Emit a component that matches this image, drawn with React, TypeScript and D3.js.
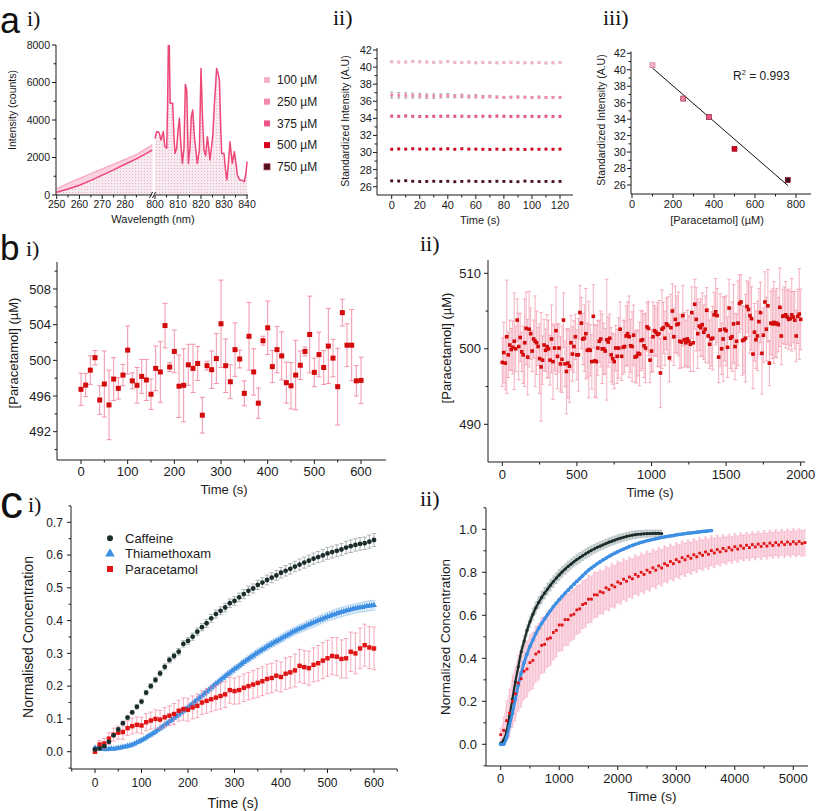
import React from "react";
import * as d3 from "d3";

const FONT = "'Liberation Sans', Arial, Helvetica, sans-serif";
const SERIF = "'Liberation Serif', 'DejaVu Serif', serif";
const INK = "#1a1a1a";

// ---------------- a-i spectrum ----------------
const specLeftWl = [250, 255, 260, 265, 270, 275, 280, 285, 290, 292];
const specLeftHigh = [340, 620, 880, 1140, 1390, 1640, 1890, 2150, 2520, 2690];
const specLeftLow = [150, 320, 520, 780, 1060, 1340, 1640, 1930, 2260, 2400];
const specRightWl = [800.0, 800.7, 801.4, 801.9, 802.6, 803.1, 803.6, 804.3, 805.1, 805.5, 805.8, 806.2, 806.6, 807.7, 808.3, 808.7, 809.4, 810.0, 810.6, 811.2, 811.9, 812.6, 813.2, 813.8, 814.5, 815.2, 815.8, 816.4, 817.2, 818.4, 819.3, 820.0, 820.7, 821.3, 822.0, 822.8, 823.9, 824.6, 825.1, 825.9, 826.8, 827.4, 828.0, 828.6, 829.0, 830.0, 830.6, 831.2, 831.8, 832.6, 833.6, 834.5, 835.2, 835.8, 836.8, 837.7, 838.8, 839.6, 840.0];
const specRightI = [3020, 3380, 3380, 3290, 2930, 3150, 3380, 2580, 2490, 5000, 8000, 8000, 4890, 4890, 3000, 2220, 2490, 3400, 4090, 2800, 1690, 2500, 5900, 5600, 1690, 2500, 4200, 4530, 3000, 1690, 2400, 6750, 4000, 2400, 2100, 3110, 1870, 2600, 3110, 5000, 6750, 6500, 6130, 3500, 2220, 2220, 1400, 800, 1500, 2840, 1690, 2310, 1700, 1070, 800, 800, 710, 1200, 1780];
const a1YTicks = [0, 2000, 4000, 6000, 8000];
const a1YMinor = [1000, 3000, 5000, 7000];
const a1XTicksL = [250, 260, 270, 280];
const a1XMinorL = [255, 265, 275, 285];
const a1XTicksR = [800, 810, 820, 830, 840];
const a1XMinorR = [805, 815, 825, 835];

const concLabels = ["100 µM", "250 µM", "375 µM", "500 µM", "750 µM"];
const concColors = ["#f7b3c8", "#f288a8", "#ec5585", "#d6001c", "#4a0f1c"];

// ---------------- a-ii stability ----------------
const a2Times = [0, 5, 10, 15, 20, 25, 30, 35, 40, 45, 50, 55, 60, 65, 70, 75, 80, 85, 90, 95, 100, 105, 110, 115, 120];
const a2S100 = [40.62, 40.58, 40.6, 40.64, 40.62, 40.6, 40.56, 40.58, 40.64, 40.56, 40.55, 40.58, 40.5, 40.56, 40.52, 40.5, 40.54, 40.56, 40.52, 40.5, 40.5, 40.54, 40.48, 40.5, 40.55];
const a2S250 = [36.72, 36.7, 36.68, 36.66, 36.64, 36.6, 36.6, 36.62, 36.66, 36.6, 36.62, 36.55, 36.58, 36.52, 36.56, 36.5, 36.45, 36.48, 36.5, 36.48, 36.46, 36.48, 36.45, 36.46, 36.46];
const a2S375 = [34.26, 34.24, 34.28, 34.24, 34.22, 34.22, 34.24, 34.24, 34.26, 34.24, 34.25, 34.22, 34.24, 34.25, 34.24, 34.26, 34.24, 34.22, 34.24, 34.22, 34.24, 34.2, 34.24, 34.22, 34.22];
const a2S500 = [30.38, 30.42, 30.4, 30.44, 30.4, 30.4, 30.42, 30.4, 30.44, 30.38, 30.44, 30.4, 30.4, 30.38, 30.36, 30.4, 30.34, 30.4, 30.38, 30.36, 30.4, 30.38, 30.4, 30.38, 30.4];
const a2S750 = [26.68, 26.66, 26.7, 26.64, 26.6, 26.62, 26.64, 26.62, 26.64, 26.58, 26.62, 26.66, 26.62, 26.6, 26.62, 26.64, 26.62, 26.6, 26.58, 26.66, 26.62, 26.6, 26.62, 26.6, 26.62];
const a2E250 = [0.35, 0.33, 0.32, 0.3, 0.28, 0.27, 0.26, 0.25, 0.24, 0.2, 0.22, 0.18, 0.2, 0.14, 0.15, 0.12, 0.12, 0.1, 0.12, 0.1, 0.1, 0.12, 0.1, 0.1, 0.1];
const a2EOther = [0.1, 0.12, 0.1, 0.08];
const a2XTicks = [0, 20, 40, 60, 80, 100, 120];
const a2XMinor = [10, 30, 50, 70, 90, 110];
const stdTicks = [26, 28, 30, 32, 34, 36, 38, 40, 42];
const stdMinor = [27, 29, 31, 33, 35, 37, 39, 41];

// ---------------- a-iii calibration ----------------
const a3Conc = [100, 250, 375, 500, 760];
const a3Int = [40.55, 36.5, 34.25, 30.4, 26.6];
const a3FitX = [100, 762];
const a3FitY = [40.2, 25.9];
const a3XTicks = [0, 200, 400, 600, 800];
const a3XMinor = [100, 300, 500, 700];

// ---------------- b-i ----------------
const b1Values = [496.75, 497.23, 498.9, 500.3, 495.55, 497.35, 495.0, 497.9, 496.86, 498.35,
  501.15, 497.7, 497.2, 498.2, 497.8, 496.2, 499.1, 498.7, 503.9, 499.25,
  501.0, 497.1, 497.2, 499.5, 499.1, 499.65, 493.85, 499.4, 498.95, 500.2,
  504.1, 499.4, 497.6, 501.2, 500.15, 496.3, 502.7, 498.7, 495.2, 502.2,
  503.65, 499.3, 501.2, 500.5, 497.5, 497.15, 498.35, 499.45, 501.0, 502.9,
  498.65, 500.65, 499.2, 501.6, 500.25, 497.05, 505.35, 501.7, 501.7, 497.7, 497.75];
const b1Err = [1.8, 1.3, 1.6, 0.8, 1.6, 3.7, 3.9, 2.4, 1.2, 1.2,
  2.7, 0.9, 2.0, 1.9, 2.3, 1.7, 2.5, 3.4, 2.5, 0.5,
  2.4, 3.5, 4.1, 2.3, 2.7, 1.9, 2.0, 0.5, 2.1, 2.8,
  4.9, 3.0, 1.9, 3.0, 1.0, 1.4, 3.8, 2.6, 1.7, 0.5,
  3.0, 1.8, 2.6, 2.7, 2.3, 2.6, 3.9, 1.6, 0.5, 4.3,
  1.6, 2.5, 1.9, 4.2, 2.1, 4.3, 1.5, 2.4, 4.0, 1.7, 2.6];
const b1YTicks = [492, 496, 500, 504, 508];
const b1YMinor = [490, 494, 498, 502, 506, 510];
const b1XTicks = [0, 100, 200, 300, 400, 500, 600];
const b1XMinor = [50, 150, 250, 350, 450, 550];

// ---------------- b-ii ----------------
const b2Values = [498.2, 499.5, 498.1, 501.6, 499.2, 500.5, 499.9, 500.2, 501.0, 500.0,
  503.8, 500.3, 501.5, 499.6, 499.2, 500.8, 502.7, 498.9, 502.6, 502.0,
  499.7, 501.3, 501.0, 500.8, 500.3, 498.7, 497.6, 498.5, 500.5, 499.8,
  500.3, 500.0, 498.5, 501.3, 498.3, 500.1, 502.4, 499.0, 500.1, 498.0,
  498.6, 503.8, 498.0, 497.0, 498.1, 497.7, 500.8, 499.3, 500.3, 501.6,
  499.2, 499.2, 504.8, 503.4, 501.3, 501.4, 502.0, 499.8, 499.9, 499.8,
  498.3, 504.3, 498.4, 498.3, 500.1, 501.0, 501.3, 500.0, 500.0, 499.7,
  501.2, 500.9, 501.4, 499.2, 498.7, 498.3, 500.1, 499.0, 500.1, 502.6,
  499.0, 500.2, 500.3, 501.7, 502.0, 501.6, 500.4, 500.3, 501.8, 498.9,
  499.0, 499.4, 499.3, 501.1, 501.2, 500.4, 500.1, 502.9, 502.7, 498.5,
  499.7, 501.6, 502.4, 502.2, 501.9, 502.0, 496.8, 502.6, 502.8, 501.4,
  503.3, 503.1, 498.8, 502.8, 505.0, 501.6, 503.9, 503.2, 503.3, 501.0,
  500.9, 504.4, 501.2, 500.8, 501.3, 501.0, 500.6, 504.8, 500.8, 505.9,
  503.9, 502.0, 503.0, 502.8, 503.2, 502.2, 502.6, 505.1, 501.7, 500.6,
  501.3, 501.4, 504.5, 504.9, 504.4, 498.9, 502.5, 500.0, 501.3, 502.6,
  502.4, 500.2, 505.4, 501.4, 501.6, 503.3, 500.3, 501.0, 503.4, 506.0,
  506.2, 501.1, 501.2, 501.4, 505.6, 505.2, 504.4, 504.0, 499.3, 502.2,
  501.2, 501.7, 503.6, 504.8, 499.4, 501.8, 506.2, 502.6, 505.7, 498.1,
  503.4, 503.3, 503.5, 503.3, 503.4, 503.2, 505.5, 501.7, 504.3, 504.4,
  504.5, 504.2, 503.9, 504.0, 504.5, 504.2, 503.8, 501.7, 504.3, 504.6, 503.9];
const b2Err = [3.2, 4.0, 3.5, 7.5, 3.0, 3.3, 2.8, 3.5, 6.4, 3.0,
  2.8, 4.4, 3.2, 2.6, 3.8, 5.8, 4.8, 5.0, 5.0, 3.4,
  2.7, 2.5, 6.0, 4.2, 2.5, 4.6, 7.2, 3.2, 3.4, 2.8,
  4.2, 3.8, 3.3, 4.5, 5.0, 3.0, 5.8, 4.3, 3.2, 3.6,
  4.4, 3.6, 3.0, 5.6, 4.6, 4.8, 3.6, 3.6, 3.4, 3.0,
  3.3, 4.8, 3.6, 3.4, 3.4, 4.4, 6.0, 3.6, 6.4, 3.4,
  3.6, 4.2, 4.8, 4.8, 3.6, 2.8, 3.7, 4.6, 3.4, 3.0,
  8.0, 3.3, 3.2, 3.6, 3.4, 3.6, 3.0, 3.6, 4.0, 3.6,
  3.2, 3.6, 3.4, 4.0, 4.2, 5.4, 3.5, 4.6, 4.0, 3.4,
  3.5, 3.0, 4.2, 4.0, 3.8, 4.2, 4.6, 3.2, 3.6, 3.0,
  2.8, 4.6, 3.3, 3.2, 4.2, 4.4, 4.6, 5.2, 3.4, 3.6,
  3.4, 3.8, 3.2, 4.4, 3.6, 3.8, 4.4, 3.8, 4.2, 3.6,
  3.4, 4.0, 3.6, 3.0, 3.8, 3.4, 3.6, 3.4, 3.8, 3.3,
  4.2, 4.6, 3.2, 3.8, 4.2, 3.6, 4.4, 3.0, 3.6, 3.2,
  3.6, 4.2, 3.0, 4.4, 3.6, 3.4, 4.8, 3.4, 5.6, 4.2,
  4.6, 4.0, 3.8, 4.0, 4.6, 5.2, 4.4, 3.6, 5.6, 3.8,
  3.6, 4.6, 4.4, 5.8, 3.4, 3.6, 5.0, 4.2, 4.6, 3.8,
  3.8, 4.6, 4.4, 4.0, 5.4, 3.6, 4.0, 4.2, 4.8, 3.0,
  4.2, 4.6, 5.4, 4.4, 4.6, 3.6, 5.2, 3.8, 3.6, 3.8,
  4.4, 3.6, 4.0, 3.6, 4.8, 3.4, 3.8, 3.4, 3.6, 6.0, 4.0];
const b2YTicks = [490, 500, 510];
const b2YMinor = [495, 505];
const b2XTicks = [0, 500, 1000, 1500, 2000];
const b2XMinor = [250, 750, 1250, 1750];

// ---------------- c-i ----------------
const c1Caffeine = [0.007, 0.010, 0.017, 0.030, 0.050, 0.068, 0.087, 0.104, 0.120, 0.137,
  0.153, 0.180, 0.200, 0.219, 0.239, 0.259, 0.280, 0.292, 0.305, 0.329,
  0.338, 0.351, 0.366, 0.380, 0.392, 0.407, 0.420, 0.430, 0.440, 0.453,
  0.460, 0.471, 0.481, 0.491, 0.498, 0.509, 0.516, 0.524, 0.531, 0.538,
  0.546, 0.552, 0.558, 0.565, 0.571, 0.577, 0.583, 0.589, 0.594, 0.599,
  0.605, 0.609, 0.613, 0.617, 0.623, 0.627, 0.631, 0.634, 0.636, 0.641, 0.646];
const c1CaffeineErr = [0.004, 0.004, 0.004, 0.005, 0.005, 0.005, 0.006, 0.006, 0.006, 0.007,
  0.007, 0.007, 0.008, 0.008, 0.008, 0.009, 0.009, 0.009, 0.010, 0.010,
  0.010, 0.011, 0.011, 0.011, 0.012, 0.012, 0.012, 0.012, 0.013, 0.013,
  0.013, 0.013, 0.014, 0.014, 0.014, 0.014, 0.015, 0.015, 0.015, 0.015,
  0.016, 0.016, 0.016, 0.016, 0.017, 0.017, 0.017, 0.017, 0.017, 0.018,
  0.018, 0.018, 0.018, 0.018, 0.019, 0.019, 0.019, 0.019, 0.019, 0.020, 0.020];
const c1Thiam = [0.012, 0.010, 0.009, 0.008, 0.008, 0.007, 0.008, 0.009, 0.008, 0.010, 0.011, 0.012, 0.014,
  0.015, 0.017, 0.019, 0.021, 0.024, 0.028, 0.031, 0.035, 0.039, 0.043, 0.048, 0.052,
  0.056, 0.061, 0.066, 0.071, 0.076, 0.082, 0.087, 0.092, 0.097, 0.103, 0.108, 0.113,
  0.119, 0.124, 0.130, 0.135, 0.141, 0.147, 0.153, 0.159, 0.165, 0.171, 0.177, 0.183,
  0.189, 0.195, 0.201, 0.207, 0.213, 0.219, 0.225, 0.230, 0.236, 0.241, 0.247, 0.252,
  0.257, 0.262, 0.268, 0.273, 0.278, 0.283, 0.288, 0.293, 0.298, 0.303, 0.307, 0.312,
  0.316, 0.321, 0.325, 0.329, 0.333, 0.337, 0.341, 0.345, 0.349, 0.353, 0.357, 0.361,
  0.365, 0.368, 0.372, 0.375, 0.378, 0.381, 0.385, 0.388, 0.391, 0.394, 0.397, 0.400,
  0.403, 0.406, 0.409, 0.412, 0.414, 0.417, 0.419, 0.422, 0.424, 0.426, 0.428, 0.430,
  0.432, 0.434, 0.436, 0.437, 0.439, 0.440, 0.441, 0.443, 0.444, 0.445, 0.446, 0.447];
const c1ThiamErr = [0.003, 0.003, 0.003, 0.003, 0.003, 0.003, 0.003, 0.003, 0.003, 0.003, 0.003, 0.003, 0.003,
  0.004, 0.004, 0.004, 0.004, 0.004, 0.004, 0.005, 0.005, 0.005, 0.005, 0.005, 0.005,
  0.005, 0.005, 0.005, 0.005, 0.006, 0.006, 0.006, 0.006, 0.007, 0.007, 0.007, 0.007,
  0.007, 0.007, 0.007, 0.007, 0.008, 0.008, 0.008, 0.008, 0.008, 0.008, 0.008, 0.008,
  0.009, 0.009, 0.009, 0.009, 0.009, 0.009, 0.010, 0.010, 0.010, 0.010, 0.010, 0.010,
  0.010, 0.010, 0.010, 0.010, 0.010, 0.010, 0.011, 0.011, 0.011, 0.011, 0.011, 0.011,
  0.011, 0.011, 0.011, 0.011, 0.011, 0.011, 0.012, 0.012, 0.012, 0.012, 0.012, 0.012,
  0.012, 0.012, 0.012, 0.012, 0.012, 0.012, 0.013, 0.013, 0.013, 0.013, 0.013, 0.013,
  0.013, 0.013, 0.013, 0.013, 0.013, 0.013, 0.014, 0.014, 0.014, 0.014, 0.014, 0.014,
  0.014, 0.014, 0.014, 0.014, 0.014, 0.014, 0.015, 0.015, 0.015, 0.015, 0.015, 0.015];
const c1Para = [0.000, 0.022, 0.025, 0.040, 0.052, 0.058, 0.060, 0.072, 0.078, 0.082,
  0.080, 0.090, 0.095, 0.100, 0.098, 0.105, 0.110, 0.115, 0.125, 0.130,
  0.128, 0.135, 0.140, 0.150, 0.155, 0.160, 0.165, 0.170, 0.175, 0.188,
  0.185, 0.188, 0.195, 0.200, 0.205, 0.210, 0.215, 0.222, 0.225, 0.232,
  0.228, 0.238, 0.242, 0.248, 0.262, 0.258, 0.255, 0.265, 0.270, 0.278,
  0.285, 0.292, 0.290, 0.283, 0.285, 0.305, 0.300, 0.315, 0.325, 0.318, 0.315];
const c1ParaErr = [0.005, 0.012, 0.015, 0.018, 0.020, 0.020, 0.022, 0.022, 0.024, 0.024,
  0.025, 0.026, 0.026, 0.028, 0.028, 0.030, 0.030, 0.032, 0.032, 0.034,
  0.035, 0.035, 0.036, 0.036, 0.038, 0.038, 0.038, 0.040, 0.040, 0.040,
  0.040, 0.042, 0.042, 0.042, 0.043, 0.044, 0.044, 0.045, 0.045, 0.046,
  0.046, 0.048, 0.048, 0.050, 0.050, 0.050, 0.052, 0.052, 0.054, 0.055,
  0.055, 0.056, 0.058, 0.058, 0.060, 0.060, 0.062, 0.062, 0.064, 0.064, 0.065];
const c1YTicks = [0, 0.1, 0.2, 0.3, 0.4, 0.5, 0.6, 0.7];
const c1YMinor = [-0.05, 0.05, 0.15, 0.25, 0.35, 0.45, 0.55, 0.65, 0.75];
const c1XTicks = [0, 100, 200, 300, 400, 500, 600];
const c1XMinor = [-50, 50, 150, 250, 350, 450, 550, 650];
const c1Legend = ["Caffeine", "Thiamethoxam", "Paracetamol"];

// ---------------- c-ii ----------------
const c2Caffeine = [0.005, 0.02, 0.06, 0.13, 0.21, 0.29, 0.36, 0.43, 0.48, 0.53,
  0.57, 0.605, 0.635, 0.66, 0.683, 0.703, 0.722, 0.74, 0.757, 0.773,
  0.788, 0.802, 0.815, 0.827, 0.838, 0.849, 0.859, 0.868, 0.877, 0.886,
  0.894, 0.902, 0.909, 0.916, 0.922, 0.928, 0.934, 0.94, 0.945, 0.95,
  0.955, 0.959, 0.963, 0.967, 0.97, 0.973, 0.975, 0.977, 0.978, 0.979,
  0.98, 0.98, 0.981, 0.981, 0.981, 0.98];
const c2CaffeineErr = [0.004, 0.008, 0.012, 0.015, 0.018, 0.02, 0.022, 0.024, 0.025, 0.026,
  0.026, 0.027, 0.027, 0.027, 0.027, 0.027, 0.026, 0.026, 0.026, 0.025,
  0.025, 0.025, 0.024, 0.024, 0.024, 0.023, 0.023, 0.023, 0.022, 0.022,
  0.022, 0.021, 0.021, 0.021, 0.02, 0.02, 0.02, 0.02, 0.019, 0.019,
  0.019, 0.019, 0.018, 0.018, 0.018, 0.018, 0.018, 0.017, 0.017, 0.017,
  0.017, 0.016, 0.016, 0.016, 0.016, 0.016];
const c2Thiam = [0.0, 0.0, 0.03, 0.085, 0.145, 0.21, 0.275, 0.33, 0.38, 0.42,
  0.455, 0.485, 0.515, 0.54, 0.562, 0.583, 0.603, 0.622, 0.64, 0.657,
  0.673, 0.688, 0.703, 0.717, 0.731, 0.745, 0.758, 0.771, 0.784, 0.797,
  0.81, 0.82, 0.83, 0.84, 0.849, 0.858, 0.866, 0.874, 0.882, 0.889,
  0.896, 0.902, 0.908, 0.914, 0.92, 0.925, 0.93, 0.935, 0.939, 0.943,
  0.947, 0.95, 0.953, 0.956, 0.959, 0.962, 0.965, 0.967, 0.969, 0.971,
  0.974, 0.976, 0.978, 0.98, 0.982, 0.983, 0.985, 0.987, 0.988, 0.99,
  0.991, 0.993, 0.994];
const c2ThiamErr = [0.003, 0.004, 0.005, 0.006, 0.007, 0.008, 0.008, 0.008, 0.008, 0.008,
  0.008, 0.008, 0.008, 0.008, 0.008, 0.008, 0.007, 0.007, 0.007, 0.007,
  0.007, 0.007, 0.007, 0.007, 0.007, 0.006, 0.006, 0.006, 0.006, 0.006,
  0.006, 0.006, 0.006, 0.006, 0.006, 0.006, 0.006, 0.006, 0.005, 0.005,
  0.005, 0.005, 0.005, 0.005, 0.005, 0.005, 0.005, 0.005, 0.005, 0.005,
  0.005, 0.005, 0.005, 0.005, 0.005, 0.005, 0.005, 0.005, 0.005, 0.005,
  0.005, 0.005, 0.005, 0.005, 0.005, 0.005, 0.005, 0.005, 0.005, 0.005,
  0.005, 0.005, 0.005];
const c2Para = [0.045, 0.065, 0.11, 0.145, 0.2, 0.235, 0.285, 0.305, 0.34, 0.35,
  0.38, 0.39, 0.42, 0.43, 0.46, 0.465, 0.49, 0.495, 0.52, 0.53,
  0.555, 0.555, 0.58, 0.58, 0.6, 0.605, 0.625, 0.63, 0.65, 0.655,
  0.675, 0.675, 0.695, 0.695, 0.71, 0.705, 0.728, 0.72, 0.74, 0.732,
  0.755, 0.748, 0.768, 0.758, 0.778, 0.77, 0.79, 0.781, 0.8, 0.79,
  0.81, 0.8, 0.821, 0.81, 0.83, 0.82, 0.84, 0.832, 0.85, 0.84,
  0.859, 0.849, 0.868, 0.858, 0.875, 0.865, 0.882, 0.872, 0.889, 0.879,
  0.895, 0.884, 0.901, 0.89, 0.906, 0.895, 0.911, 0.9, 0.915, 0.904,
  0.919, 0.908, 0.923, 0.912, 0.926, 0.915, 0.929, 0.918, 0.931, 0.92,
  0.934, 0.922, 0.936, 0.925, 0.938, 0.927, 0.94, 0.929, 0.941, 0.931,
  0.942, 0.932, 0.943, 0.934, 0.938];
const c2ParaErr = [0.03, 0.06, 0.09, 0.11, 0.12, 0.125, 0.13, 0.13, 0.13, 0.13,
  0.13, 0.13, 0.13, 0.13, 0.13, 0.13, 0.13, 0.128, 0.126, 0.124,
  0.122, 0.12, 0.12, 0.12, 0.118, 0.116, 0.114, 0.112, 0.11, 0.11,
  0.11, 0.108, 0.106, 0.104, 0.102, 0.1, 0.1, 0.1, 0.1, 0.098,
  0.097, 0.096, 0.095, 0.094, 0.093, 0.092, 0.091, 0.09, 0.09, 0.09,
  0.089, 0.088, 0.087, 0.086, 0.085, 0.084, 0.083, 0.082, 0.081, 0.08,
  0.08, 0.079, 0.078, 0.077, 0.076, 0.075, 0.074, 0.073, 0.072, 0.071,
  0.07, 0.07, 0.069, 0.068, 0.067, 0.066, 0.065, 0.064, 0.063, 0.062,
  0.062, 0.061, 0.06, 0.06, 0.06, 0.06, 0.06, 0.06, 0.06, 0.06,
  0.06, 0.06, 0.06, 0.06, 0.06, 0.06, 0.06, 0.06, 0.06, 0.06,
  0.06, 0.06, 0.06, 0.06, 0.06];
const c2YTicks = [0, 0.2, 0.4, 0.6, 0.8, 1.0];
const c2YMinor = [-0.1, 0.1, 0.3, 0.5, 0.7, 0.9, 1.1];
const c2XTicks = [0, 1000, 2000, 3000, 4000, 5000];
const c2XMinor = [500, 1500, 2500, 3500, 4500];

// ---------------- helpers ----------------
function LeftAxis({ s, x, y0, y1, ticks, minor, fmt, fs, off }: any) {
  return (
    <g>
      <line x1={x} x2={x} y1={y0} y2={y1} stroke={INK} strokeWidth={1} />
      {ticks.map((t: number) => (
        <g key={"t" + t}>
          <line x1={x - 4} x2={x} y1={s(t)} y2={s(t)} stroke={INK} strokeWidth={1} />
          <text x={x - off} y={s(t)} dy="0.36em" textAnchor="end" fontSize={fs} fill={INK}>{fmt(t)}</text>
        </g>
      ))}
      {minor.filter((t: number) => s(t) >= Math.min(y0, y1) - 0.5 && s(t) <= Math.max(y0, y1) + 0.5).map((t: number) => (
        <line key={"m" + t} x1={x - 2.5} x2={x} y1={s(t)} y2={s(t)} stroke={INK} strokeWidth={1} />
      ))}
    </g>
  );
}

function BottomAxis({ s, y, x0, x1, ticks, minor, fmt, fs, off }: any) {
  return (
    <g>
      <line x1={x0} x2={x1} y1={y} y2={y} stroke={INK} strokeWidth={1} />
      {ticks.map((t: number) => (
        <g key={"t" + t}>
          <line x1={s(t)} x2={s(t)} y1={y} y2={y + 4} stroke={INK} strokeWidth={1} />
          <text x={s(t)} y={y + off} textAnchor="middle" fontSize={fs} fill={INK}>{fmt(t)}</text>
        </g>
      ))}
      {minor.filter((t: number) => s(t) >= x0 - 0.5 && s(t) <= x1 + 0.5).map((t: number) => (
        <line key={"m" + t} x1={s(t)} x2={s(t)} y1={y} y2={y + 2.5} stroke={INK} strokeWidth={1} />
      ))}
    </g>
  );
}

function ErrBars({ xs, vals, errs, sx, sy, cap, stroke, sw, op }: any) {
  return (
    <g stroke={stroke} strokeWidth={sw} opacity={op} fill="none">
      {vals.map((v: number, i: number) => {
        const e = errs[i] ?? 0;
        const cx = sx(xs[i]);
        const yt = sy(v + e);
        const yb = sy(v - e);
        return (
          <g key={i}>
            <line x1={cx} x2={cx} y1={yt} y2={yb} />
            <line x1={cx - cap} x2={cx + cap} y1={yt} y2={yt} />
            <line x1={cx - cap} x2={cx + cap} y1={yb} y2={yb} />
          </g>
        );
      })}
    </g>
  );
}

function Band({ xs, vals, errs, sx, sy, fill, op }: any) {
  const area = d3.area<number>()
    .x((_, i) => sx(xs[i]))
    .y0((d, i) => sy(d - (errs[i] ?? 0)))
    .y1((d, i) => sy(d + (errs[i] ?? 0)))
    .curve(d3.curveMonotoneX);
  return <path d={area(vals) || ""} fill={fill} opacity={op} />;
}

function Squares({ xs, vals, sx, sy, size, fill, stroke }: any) {
  return (
    <g fill={fill} stroke={stroke || "none"} strokeWidth={0.6}>
      {vals.map((v: number, i: number) => (
        <rect key={i} x={sx(xs[i]) - size / 2} y={sy(v) - size / 2} width={size} height={size} />
      ))}
    </g>
  );
}

const fmtInt = (v: number) => String(v);
const fmt1 = d3.format(".1f");

function YTitle({ x, y, text, fs }: any) {
  return (
    <text transform={`translate(${x},${y}) rotate(-90)`} textAnchor="middle" dy="0.35em" fontSize={fs} fill={INK}>{text}</text>
  );
}

// ---------------- panels ----------------
function PanelA1() {
  const xL = d3.scaleLinear().domain([250, 280]).range([56.7, 125]);
  const xR = d3.scaleLinear().domain([800, 840]).range([155, 247]);
  const y = d3.scaleLinear().domain([0, 8000]).range([195, 45]);
  const lineL = d3.line<number>().x((_, i) => xL(specLeftWl[i])).y((d) => y(d));
  const areaL = d3.area<number>().x((_, i) => xL(specLeftWl[i])).y0(y(0)).y1((d) => y(d));
  const lineR = d3.line<number>().x((_, i) => xR(specRightWl[i])).y((d) => y(d));
  const areaR = d3.area<number>().x((_, i) => xR(specRightWl[i])).y0(y(0)).y1((d) => y(d));
  return (
    <g>
      <defs>
        <pattern id="hatch" width="3" height="3" patternUnits="userSpaceOnUse">
          <rect width="3" height="3" fill="#f8eaf1" />
          <rect width="1" height="1" fill="#e7b2c8" />
        </pattern>
        <clipPath id="a1clip"><rect x={56} y={45} width={195} height={150} /></clipPath>
      </defs>
      <g clipPath="url(#a1clip)">
        <path d={areaL(specLeftHigh) || ""} fill="#fbd3e0" />
        <path d={areaL(specLeftLow) || ""} fill="url(#hatch)" />
        <path d={lineL(specLeftHigh) || ""} fill="none" stroke="#f6b0c6" strokeWidth={1.5} />
        <path d={lineL(specLeftLow) || ""} fill="none" stroke="#ee4677" strokeWidth={1.5} />
        <path d={areaR(specRightI) || ""} fill="url(#hatch)" />
        <path d={lineR(specRightI) || ""} fill="none" stroke="#ee4677" strokeWidth={1.5} strokeLinejoin="round" />
      </g>
      <LeftAxis s={y} x={56} y0={195} y1={45} ticks={a1YTicks} minor={a1YMinor} fmt={fmtInt} fs={10.5} off={6} />
      <BottomAxis s={xL} y={195} x0={56} x1={152} ticks={a1XTicksL} minor={a1XMinorL} fmt={fmtInt} fs={10.5} off={13} />
      <BottomAxis s={xR} y={195} x0={155} x1={248} ticks={a1XTicksR} minor={a1XMinorR} fmt={fmtInt} fs={10.5} off={13} />
      <line x1={149.5} x2={152.5} y1={198} y2={192} stroke={INK} strokeWidth={1} />
      <line x1={152.5} x2={155.5} y1={198} y2={192} stroke={INK} strokeWidth={1} />
      <YTitle x={12} y={110} text="Intensity (counts)" fs={10.5} />
      <text x={153} y={223} textAnchor="middle" fontSize={11} fill={INK}>Wavelength (nm)</text>
      {concLabels.map((l, i) => (
        <g key={l}>
          <rect x={264} y={80 + i * 21.7 - 3} width={6} height={6} fill={concColors[i]} stroke={i === 4 ? "#a02040" : "none"} strokeWidth={0.8} />
          <text x={277} y={80 + i * 21.7} dy="0.36em" fontSize={12} fill={INK}>{l}</text>
        </g>
      ))}
    </g>
  );
}

function PanelA2() {
  const x = d3.scaleLinear().domain([0, 120]).range([391.7, 560]);
  const y = d3.scaleLinear().domain([26, 42]).range([186.7, 50]);
  const series = [a2S100, a2S250, a2S375, a2S500, a2S750];
  return (
    <g>
      {series.map((s, k) => (
        <g key={k}>
          <ErrBars xs={a2Times} vals={s} errs={k === 1 ? a2E250 : s.map(() => a2EOther[k > 1 ? k - 1 : 0])} sx={x} sy={y} cap={1.5} stroke="#8d8d96" sw={0.8} op={0.9} />
          <Squares xs={a2Times} vals={s} sx={x} sy={y} size={2.8} fill={concColors[k]} />
        </g>
      ))}
      <LeftAxis s={y} x={377} y0={195} y1={48} ticks={stdTicks} minor={stdMinor} fmt={fmtInt} fs={11} off={5} />
      <BottomAxis s={x} y={195} x0={377} x1={573} ticks={a2XTicks} minor={a2XMinor} fmt={fmtInt} fs={11} off={14} />
      <YTitle x={345} y={121} text="Standardized Intensity (A.U)" fs={10.5} />
      <text x={480} y={224} textAnchor="middle" fontSize={11} fill={INK}>Time (s)</text>
    </g>
  );
}

function PanelA3() {
  const x = d3.scaleLinear().domain([0, 800]).range([632, 796]);
  const y = d3.scaleLinear().domain([26, 42]).range([185, 53.3]);
  return (
    <g>
      <line x1={x(a3FitX[0])} y1={y(a3FitY[0])} x2={x(a3FitX[1])} y2={y(a3FitY[1])} stroke="#111" strokeWidth={1} />
      {a3Conc.map((c, i) => (
        <rect key={c} x={x(c) - 2.5} y={y(a3Int[i]) - 2.5} width={5} height={5} fill={concColors[i]} stroke={i === 0 ? "#c07080" : "#801020"} strokeWidth={0.6} />
      ))}
      <LeftAxis s={y} x={631} y0={194} y1={51.5} ticks={stdTicks} minor={stdMinor} fmt={fmtInt} fs={11} off={5} />
      <BottomAxis s={x} y={194} x0={631} x1={811} ticks={a3XTicks} minor={a3XMinor} fmt={fmtInt} fs={11} off={14} />
      <YTitle x={601} y={120} text="Standardized Intensity (A.U)" fs={10.5} />
      <text x={717} y={224} textAnchor="middle" fontSize={11} fill={INK}>[Paracetamol] (µM)</text>
      <text x={733} y={76} dy="0.36em" fontSize={12} fill={INK}>R<tspan fontSize={7.5} dy="-5">2</tspan><tspan dy="5"> = 0.993</tspan></text>
    </g>
  );
}

function PanelB1() {
  const x = d3.scaleLinear().domain([0, 600]).range([81, 361]);
  const y = d3.scaleLinear().domain([492, 508]).range([431.7, 289]);
  const ts = b1Values.map((_, i) => i * 10);
  return (
    <g>
      <ErrBars xs={ts} vals={b1Values} errs={b1Err} sx={x} sy={y} cap={2.5} stroke="#f27a95" sw={0.9} op={0.9} />
      <Squares xs={ts} vals={b1Values} sx={x} sy={y} size={5} fill="#d20a0a" />
      <LeftAxis s={y} x={57} y0={460} y1={262} ticks={b1YTicks} minor={b1YMinor} fmt={fmtInt} fs={13} off={6} />
      <BottomAxis s={x} y={460} x0={57} x1={386} ticks={b1XTicks} minor={b1XMinor} fmt={fmtInt} fs={13} off={16} />
      <YTitle x={13} y={353} text="[Paracetamol] (µM)" fs={13} />
      <text x={224} y={494} textAnchor="middle" fontSize={13} fill={INK}>Time (s)</text>
    </g>
  );
}

function PanelB2() {
  const x = d3.scaleLinear().domain([0, 2000]).range([502.3, 800.7]);
  const y = d3.scaleLinear().domain([490, 510]).range([424.3, 273.3]);
  const ts = b2Values.map((_, i) => i * 10);
  return (
    <g>
      <ErrBars xs={ts} vals={b2Values} errs={b2Err} sx={x} sy={y} cap={1.8} stroke="#f07c96" sw={0.8} op={0.75} />
      <Squares xs={ts} vals={b2Values} sx={x} sy={y} size={3.6} fill="#d20a0a" />
      <LeftAxis s={y} x={488} y0={462} y1={260} ticks={b2YTicks} minor={b2YMinor} fmt={fmtInt} fs={13} off={7} />
      <BottomAxis s={x} y={462} x0={488} x1={805} ticks={b2XTicks} minor={b2XMinor} fmt={fmtInt} fs={13} off={17} />
      <YTitle x={446} y={348} text="[Paracetamol] (µM)" fs={13} />
      <text x={650} y={497} textAnchor="middle" fontSize={13} fill={INK}>Time (s)</text>
    </g>
  );
}

const triPath = d3.symbol().type(d3.symbolTriangle).size(16)() || "";
const triLegend = d3.symbol().type(d3.symbolTriangle).size(40)() || "";

function PanelC1() {
  const x = d3.scaleLinear().domain([0, 600]).range([95, 374]);
  const y = d3.scaleLinear().domain([0, 0.7]).range([751.7, 522.3]);
  const tCaf = c1Caffeine.map((_, i) => i * 10);
  const tThi = c1Thiam.map((_, i) => i * 5);
  const tPar = c1Para.map((_, i) => i * 10);
  return (
    <g>
      <ErrBars xs={tThi} vals={c1Thiam} errs={c1ThiamErr} sx={x} sy={y} cap={1.5} stroke="#9cc6ee" sw={0.8} op={0.9} />
      <g fill="#3d8fe3">
        {c1Thiam.map((v, i) => <path key={i} d={triPath} transform={`translate(${x(tThi[i])},${y(v)})`} />)}
      </g>
      <ErrBars xs={tPar} vals={c1Para} errs={c1ParaErr} sx={x} sy={y} cap={2.2} stroke="#f27a95" sw={0.8} op={0.8} />
      <Squares xs={tPar} vals={c1Para} sx={x} sy={y} size={4.4} fill="#e01414" />
      <ErrBars xs={tCaf} vals={c1Caffeine} errs={c1CaffeineErr} sx={x} sy={y} cap={2.2} stroke="#8f9c9c" sw={0.8} op={0.9} />
      <g fill="#1b2d2b">
        {c1Caffeine.map((v, i) => <circle key={i} cx={x(tCaf[i])} cy={y(v)} r={2.4} />)}
      </g>
      <LeftAxis s={y} x={71} y0={769} y1={506} ticks={c1YTicks} minor={c1YMinor} fmt={fmt1} fs={12} off={8} />
      <BottomAxis s={x} y={769} x0={71} x1={397} ticks={c1XTicks} minor={c1XMinor} fmt={fmtInt} fs={12} off={18} />
      <YTitle x={28} y={637} text="Normalised Concentration" fs={14} />
      <text x={233} y={808} textAnchor="middle" fontSize={14} fill={INK}>Time (s)</text>
      <circle cx={110} cy={538.3} r={3} fill="#1b2d2b" />
      <path d={triLegend} transform="translate(110,553.8)" fill="#3d8fe3" />
      <rect x={107} y={566} width={6} height={6} fill="#e01414" />
      {c1Legend.map((l, i) => (
        <text key={l} x={125} y={538.3 + i * 15.4} dy="0.36em" fontSize={13} fill={INK}>{l}</text>
      ))}
    </g>
  );
}

function PanelC2() {
  const x = d3.scaleLinear().domain([0, 5000]).range([500.7, 793.3]);
  const y = d3.scaleLinear().domain([0, 1]).range([744.3, 529.3]);
  const tCaf = c2Caffeine.map((_, i) => i * 50);
  const tThi = c2Thiam.map((_, i) => i * 50);
  const tPar = c2Para.map((_, i) => i * 50);
  const lineC = d3.line<number>().x((_, i) => x(tCaf[i])).y((d) => y(d)).curve(d3.curveMonotoneX);
  const lineT = d3.line<number>().x((_, i) => x(tThi[i])).y((d) => y(d)).curve(d3.curveMonotoneX);
  return (
    <g>
      <Band xs={tPar} vals={c2Para} errs={c2ParaErr} sx={x} sy={y} fill="#f7b9cc" op={0.55} />
      <ErrBars xs={tPar} vals={c2Para} errs={c2ParaErr} sx={x} sy={y} cap={1.6} stroke="#f48fb0" sw={0.7} op={0.55} />
      <Band xs={tCaf} vals={c2Caffeine} errs={c2CaffeineErr} sx={x} sy={y} fill="#b8c2c2" op={0.6} />
      <ErrBars xs={tCaf} vals={c2Caffeine} errs={c2CaffeineErr} sx={x} sy={y} cap={1.5} stroke="#9aa6a6" sw={0.7} op={0.7} />
      <path d={lineC(c2Caffeine) || ""} fill="none" stroke="#1b2d2b" strokeWidth={2.2} />
      <g fill="#1b2d2b">
        {c2Caffeine.map((v, i) => <circle key={i} cx={x(tCaf[i])} cy={y(v)} r={1.6} />)}
      </g>
      <path d={lineT(c2Thiam) || ""} fill="none" stroke="#3d8fe3" strokeWidth={2.8} />
      <g fill="#3d8fe3">
        {c2Thiam.map((v, i) => <circle key={i} cx={x(tThi[i])} cy={y(v)} r={1.9} />)}
      </g>
      <Squares xs={tPar} vals={c2Para} sx={x} sy={y} size={2.8} fill="#e01414" />
      <LeftAxis s={y} x={486} y0={766} y1={508} ticks={c2YTicks} minor={c2YMinor} fmt={fmt1} fs={13} off={9} />
      <BottomAxis s={x} y={766} x0={486} x1={808} ticks={c2XTicks} minor={c2XMinor} fmt={fmtInt} fs={13} off={17} />
      <YTitle x={445} y={637} text="Normalized Concentration" fs={13.5} />
      <text x={652} y={801} textAnchor="middle" fontSize={13.5} fill={INK}>Time (s)</text>
    </g>
  );
}

function Labels() {
  return (
    <g fill="#111">
      <text x={0} y={33} fontSize={36} fontFamily={FONT}>a</text>
      <text x={27} y={26} fontSize={22} fontFamily={SERIF}>i)</text>
      <text x={333} y={25} fontSize={22} fontFamily={SERIF}>ii)</text>
      <text x={603} y={25} fontSize={22} fontFamily={SERIF}>iii)</text>
      <text x={0} y={260} fontSize={35} fontFamily={FONT}>b</text>
      <text x={26} y={256} fontSize={22} fontFamily={SERIF}>i)</text>
      <text x={420} y={251} fontSize={22} fontFamily={SERIF}>ii)</text>
      <text x={0} y={518} fontSize={46} fontFamily={FONT}>c</text>
      <text x={28} y={512} fontSize={22} fontFamily={SERIF}>i)</text>
      <text x={420} y={506} fontSize={22} fontFamily={SERIF}>ii)</text>
    </g>
  );
}

export default function App() {
  return (
    <svg width={817} height={811} viewBox="0 0 817 811" style={{ position: "absolute", left: 0, top: 0, background: "#fff" }} fontFamily={FONT}>
      <rect width={817} height={811} fill="#fff" />
      <PanelA1 />
      <PanelA2 />
      <PanelA3 />
      <PanelB1 />
      <PanelB2 />
      <PanelC1 />
      <PanelC2 />
      <Labels />
    </svg>
  );
}
